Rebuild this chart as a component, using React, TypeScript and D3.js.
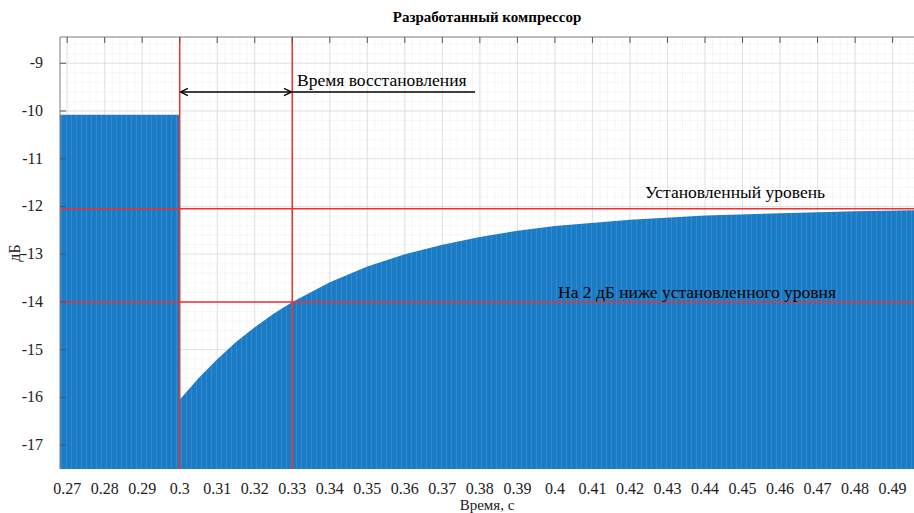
import React from "react";
import * as d3 from "d3";

const W = 914;
const H = 513;

const title = "Разработанный компрессор";
const xLabel = "Время, с";
const yLabel = "дБ";

const xTicks = [0.27, 0.28, 0.29, 0.3, 0.31, 0.32, 0.33, 0.34, 0.35, 0.36, 0.37, 0.38, 0.39, 0.4, 0.41, 0.42, 0.43, 0.44, 0.45, 0.46, 0.47, 0.48, 0.49];
const yTicks = [-9, -10, -11, -12, -13, -14, -15, -16, -17];

// envelope of the signal (time s, level dB)
const envT = [0.268, 0.2999, 0.3, 0.305, 0.31, 0.315, 0.32, 0.325, 0.33, 0.34, 0.35, 0.36, 0.37, 0.38, 0.39, 0.4, 0.42, 0.44, 0.46, 0.48, 0.4957];
const envDb = [-10.08, -10.08, -16.05, -15.6, -15.2, -14.84, -14.53, -14.25, -14.0, -13.59, -13.26, -13.0, -12.8, -12.64, -12.51, -12.41, -12.28, -12.19, -12.14, -12.1, -12.08];

const markerT = [0.3, 0.33];
const markerDb = [-12.05, -14.0];

const ann1 = "Время восстановления";
const ann2 = "Установленный уровень";
const ann3 = "На 2 дБ ниже установленного уровня";

const FONT = "'Liberation Serif', 'Times New Roman', 'DejaVu Serif', serif";

export default function App() {
  const m = { left: 60, top: 37, right: 914, bottom: 469 };
  const x = d3.scaleLinear().domain([0.2681, 0.4957]).range([m.left, m.right]);
  const y = d3.scaleLinear().domain([-8.45, -17.5]).range([m.top, m.bottom]);

  const pts = envT.map((t, i) => [t, envDb[i]] as [number, number]);
  const area = d3
    .area<[number, number]>()
    .x((d) => x(d[0]))
    .y0(y(-17.5))
    .y1((d) => y(d[1]))(pts) as string;

  const minorX = d3.range(0.268, 0.4957, 0.002);
  const minorY = d3.range(-17.4, -8.45, 0.2);

  const ts: React.CSSProperties = { fontFamily: FONT };

  return (
    <svg width={W} height={H} style={{ position: "absolute", left: 0, top: 0, background: "#fff" }}>
      <defs>
        <pattern id="stripes" width="5" height="10" patternUnits="userSpaceOnUse">
          <rect width="5" height="10" fill="#1c7dc6" />
          <rect x="1" width="1" height="10" fill="#3994d6" opacity="0.6" />
          <rect x="3.5" width="0.8" height="10" fill="#1570b8" opacity="0.5" />
        </pattern>
        <clipPath id="plot">
          <rect x={m.left} y={m.top} width={m.right - m.left} height={m.bottom - m.top} />
        </clipPath>
        <marker id="arr" viewBox="0 0 10 10" refX="9" refY="5" markerWidth="9" markerHeight="9" orient="auto-start-reverse" markerUnits="userSpaceOnUse">
          <path d="M1,1 L9,5 L1,9" fill="none" stroke="#000" strokeWidth={1.5} />
        </marker>
      </defs>
      <rect x={m.left} y={m.top} width={m.right - m.left} height={m.bottom - m.top} fill="#fff" />
      <g clipPath="url(#plot)">
        {minorX.map((t, i) => (
          <line key={"mx" + i} x1={x(t)} x2={x(t)} y1={m.top} y2={m.bottom} stroke="#dcdcdc" strokeWidth={0.6} strokeDasharray="1,1.5" />
        ))}
        {minorY.map((v, i) => (
          <line key={"my" + i} x1={m.left} x2={m.right} y1={y(v)} y2={y(v)} stroke="#dcdcdc" strokeWidth={0.6} strokeDasharray="1,1.5" />
        ))}
        {xTicks.map((t) => (
          <line key={"gx" + t} x1={x(t)} x2={x(t)} y1={m.top} y2={m.bottom} stroke="#d4d4d4" strokeWidth={0.6} />
        ))}
        {yTicks.map((v) => (
          <line key={"gy" + v} x1={m.left} x2={m.right} y1={y(v)} y2={y(v)} stroke="#d4d4d4" strokeWidth={0.6} />
        ))}
        <path d={area} fill="url(#stripes)" />
        {markerT.map((t) => (
          <line key={"vt" + t} x1={x(t)} x2={x(t)} y1={m.top} y2={m.bottom} stroke="#f03030" strokeWidth={1.5} />
        ))}
        {markerDb.map((v) => (
          <line key={"hd" + v} x1={m.left} x2={m.right} y1={y(v)} y2={y(v)} stroke="#f03030" strokeWidth={1.5} />
        ))}
      </g>
      <line x1={m.left} x2={m.right} y1={m.top} y2={m.top} stroke="#7a7a7a" strokeWidth={1} />
      <line x1={m.left} x2={m.left} y1={m.top} y2={m.bottom} stroke="#7a7a7a" strokeWidth={1} />
      {xTicks.map((t) => (
        <line key={"tx" + t} x1={x(t)} x2={x(t)} y1={m.top} y2={m.top + 6} stroke="#555" strokeWidth={1} />
      ))}
      {yTicks.map((v) => (
        <line key={"ty" + v} x1={m.left} x2={m.left + 6} y1={y(v)} y2={y(v)} stroke="#555" strokeWidth={1} />
      ))}
      {xTicks.map((t) => (
        <text key={"lx" + t} x={x(t)} y={494} textAnchor="middle" fontSize={16} fill="#222" style={ts}>
          {String(t)}
        </text>
      ))}
      {yTicks.map((v) => (
        <text key={"ly" + v} x={43} y={y(v) + 5} textAnchor="end" fontSize={16} fill="#222" style={ts}>
          {String(v)}
        </text>
      ))}
      <text x={487} y={22} textAnchor="middle" fontSize={15} fontWeight="bold" fill="#000" style={ts}>
        {title}
      </text>
      <text x={487} y={510} textAnchor="middle" fontSize={15} fill="#222" style={ts}>
        {xLabel}
      </text>
      <text transform={`translate(20,${253}) rotate(-90)`} textAnchor="middle" fontSize={16} fill="#222" style={ts}>
        {yLabel}
      </text>
      <line x1={x(markerT[0]) + 1} x2={x(markerT[1]) - 1} y1={92} y2={92} stroke="#000" strokeWidth={1.6} markerStart="url(#arr)" markerEnd="url(#arr)" />
      <line x1={x(markerT[1])} x2={475} y1={92} y2={92} stroke="#000" strokeWidth={1.4} />
      <text x={297} y={86} fontSize={17.5} fill="#000" style={ts}>
        {ann1}
      </text>
      <text x={645} y={198} fontSize={17.5} fill="#000" style={ts}>
        {ann2}
      </text>
      <text x={558} y={298} fontSize={17.5} fill="#000" style={ts}>
        {ann3}
      </text>
    </svg>
  );
}
